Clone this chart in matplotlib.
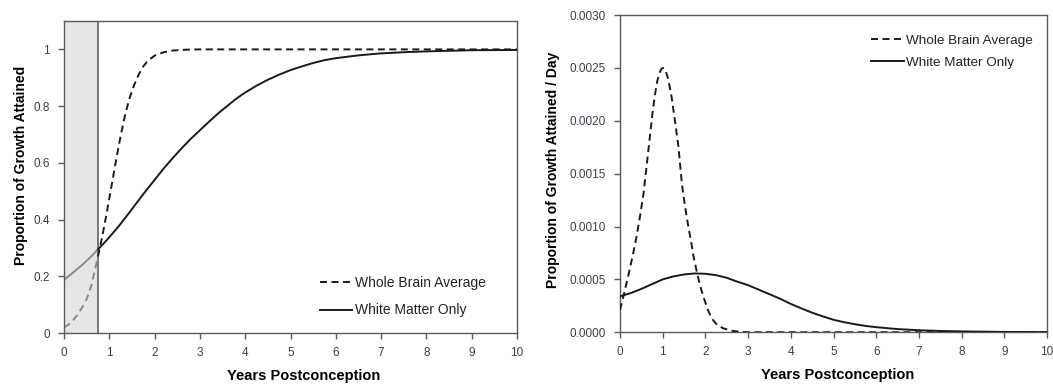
import matplotlib
matplotlib.use("Agg")
import matplotlib.pyplot as plt
import numpy as np

plt.rcParams["font.family"] = ["Liberation Sans", "DejaVu Sans"]

# Cumulative proportion of growth attained (left panel)
whole_cum_x = [0, 0.1, 0.2, 0.3, 0.4, 0.5, 0.6, 0.75, 0.85, 0.95, 1.05, 1.15, 1.25, 1.35,
               1.45, 1.55, 1.65, 1.75, 1.85, 2.0, 2.2, 2.4, 2.7, 3.0, 4, 5, 6, 7, 8, 9, 10]
whole_cum_y = [0.02, 0.03, 0.045, 0.065, 0.09, 0.12, 0.165, 0.27, 0.345, 0.43, 0.52, 0.61,
               0.695, 0.77, 0.83, 0.875, 0.912, 0.94, 0.96, 0.978, 0.99, 0.996, 0.999, 1.0,
               1.0, 1.0, 1.0, 1.0, 1.0, 1.0, 1.0]

white_cum_x = [0, 0.2, 0.4, 0.6, 0.75, 0.9, 1.0, 1.2, 1.4, 1.6, 1.8, 2.0, 2.2, 2.4, 2.6,
               2.8, 3.0, 3.2, 3.4, 3.6, 3.8, 4.0, 4.25, 4.5, 4.75, 5.0, 5.25, 5.5, 5.75,
               6.0, 6.5, 7.0, 7.5, 8.0, 9.0, 10]
white_cum_y = [0.188, 0.213, 0.24, 0.27, 0.295, 0.32, 0.338, 0.375, 0.416, 0.458, 0.50, 0.54,
               0.58, 0.617, 0.652, 0.685, 0.715, 0.745, 0.774, 0.80, 0.826, 0.848, 0.872,
               0.893, 0.911, 0.927, 0.94, 0.952, 0.962, 0.969, 0.979, 0.986, 0.99, 0.993,
               0.997, 0.998]

# Growth rate per day (right panel)
whole_rate_x = [0, 0.08, 0.15, 0.23, 0.31, 0.39, 0.47, 0.55, 0.62, 0.70, 0.76, 0.82, 0.87,
                0.92, 0.97, 1.01, 1.06, 1.11, 1.16, 1.21, 1.28, 1.37, 1.45, 1.48, 1.55, 1.6,
                1.66, 1.72, 1.8, 1.87, 1.95, 2.05, 2.15, 2.25, 2.4, 2.6, 2.8, 3.0, 10]
whole_rate_y = [0.00021, 0.00034, 0.00046, 0.0006, 0.00075, 0.00091, 0.0011, 0.00131,
                0.00156, 0.00185, 0.00207, 0.00225, 0.00237, 0.00245, 0.00249, 0.0025,
                0.00248, 0.00242, 0.00233, 0.00222, 0.00202, 0.00175, 0.0014, 0.00131,
                0.00112, 0.001, 0.00087, 0.00072, 0.00057, 0.00045, 0.00034, 0.00022,
                0.00013, 0.00008, 0.00004, 0.000015, 0.000004, 0.0, 0.0]

white_rate_x = [0, 0.25, 0.5, 0.75, 1.0, 1.25, 1.5, 1.75, 2.0, 2.25, 2.5, 2.75, 3.0, 3.25,
                3.5, 3.75, 4.0, 4.25, 4.5, 4.75, 5.0, 5.25, 5.5, 5.75, 6.0, 6.5, 7.0, 7.5,
                8.0, 9.0, 10]
white_rate_y = [0.00034, 0.00037, 0.00041, 0.000455, 0.0005, 0.000528, 0.000547, 0.000556,
                0.000553, 0.00054, 0.000515, 0.000478, 0.000445, 0.000403, 0.00036,
                0.000317, 0.000268, 0.000225, 0.000185, 0.00015, 0.000118, 0.000095,
                0.000076, 0.00006, 0.000048, 0.00003, 0.000019, 0.000012, 0.000008,
                0.000003, 0.000001]

prenatal_end = 0.75
x_ticks = list(range(0, 11))
left_yticks = [0, 0.2, 0.4, 0.6, 0.8, 1.0]
left_ylabels = ["0", "0.2", "0.4", "0.6", "0.8", "1"]
right_yticks = [0, 0.0005, 0.001, 0.0015, 0.002, 0.0025, 0.003]

labels = ["Whole Brain Average", "White Matter Only"]
xlabel = "Years Postconception"

spine_col = "#5a5a5a"
tick_col = "#3d3d4d"
dash = (3.6, 2.3)
lw = 1.4

fig = plt.figure(figsize=(10.53, 3.85), dpi=100)
ax1 = fig.add_axes([0.0608, 0.135, 0.4302, 0.8104])
ax2 = fig.add_axes([0.5888, 0.137, 0.4055, 0.824])


def style(ax):
    for s in ax.spines.values():
        s.set_color(spine_col)
        s.set_linewidth(1.0)
    ax.tick_params(direction="out", length=4, width=1.0, color=spine_col,
                   labelsize=8.5, labelcolor=tick_col, pad=6)
    ax.set_xlim(0, 10)
    ax.set_xticks(x_ticks)
    ax.set_xlabel(xlabel, fontsize=10.5, fontweight="bold", labelpad=7)


def split(xs, ys, cut):
    xs = np.asarray(xs, float)
    ys = np.asarray(ys, float)
    lo = xs <= cut
    hi = xs >= cut
    return (xs[lo], ys[lo]), (xs[hi], ys[hi])


# Left panel
style(ax1)
ax1.set_ylim(0, 1.1)
ax1.set_yticks(left_yticks)
ax1.set_yticklabels(left_ylabels)
ax1.axvspan(0, prenatal_end, color="#e6e6e6", zorder=0, lw=0)
ax1.axvline(prenatal_end, color="#6e6e6e", lw=1.3, zorder=1)

(wl, wh) = split(whole_cum_x, whole_cum_y, prenatal_end)
(ml, mh) = split(white_cum_x, white_cum_y, prenatal_end)
ax1.plot(wl[0], wl[1], color="#8a8a8a", lw=lw, dashes=dash, zorder=2)
ax1.plot(ml[0], ml[1], color="#8a8a8a", lw=lw, zorder=2)
l1, = ax1.plot(wh[0], wh[1], color="#1a1a1a", lw=lw, dashes=dash, zorder=3)
l2, = ax1.plot(mh[0], mh[1], color="#1a1a1a", lw=lw, zorder=3)
ax1.set_ylabel("Proportion of Growth Attained", fontsize=10, fontweight="bold")
ax1.yaxis.set_label_coords(-0.080, 0.538)
ax1.xaxis.label.set_x(0.528)
ax1.legend([l1, l2], labels, loc="lower right", bbox_to_anchor=(0.958, 0.01),
           frameon=False, fontsize=10, handlelength=2.3, handletextpad=0.2,
           labelspacing=0.95, labelcolor="#222222")

# Right panel
style(ax2)
ax2.set_ylim(0, 0.003)
ax2.set_yticks(right_yticks)
ax2.set_yticklabels([f"{v:.4f}" for v in right_yticks])
r1, = ax2.plot(whole_rate_x, whole_rate_y, color="#1a1a1a", lw=lw, dashes=dash, zorder=3)
r2, = ax2.plot(white_rate_x, white_rate_y, color="#1a1a1a", lw=lw, zorder=3)
ax2.set_ylabel("Proportion of Growth Attained / Day", fontsize=10, fontweight="bold")
ax2.yaxis.set_label_coords(-0.140, 0.512)
ax2.xaxis.label.set_x(0.51)
ax2.legend([r1, r2], labels, loc="upper right", bbox_to_anchor=(0.996, 0.978),
           frameon=False, fontsize=9.7, handlelength=2.4, handletextpad=0.2,
           labelspacing=0.72, labelcolor="#222222")

fig.savefig("out.png", dpi=100)
